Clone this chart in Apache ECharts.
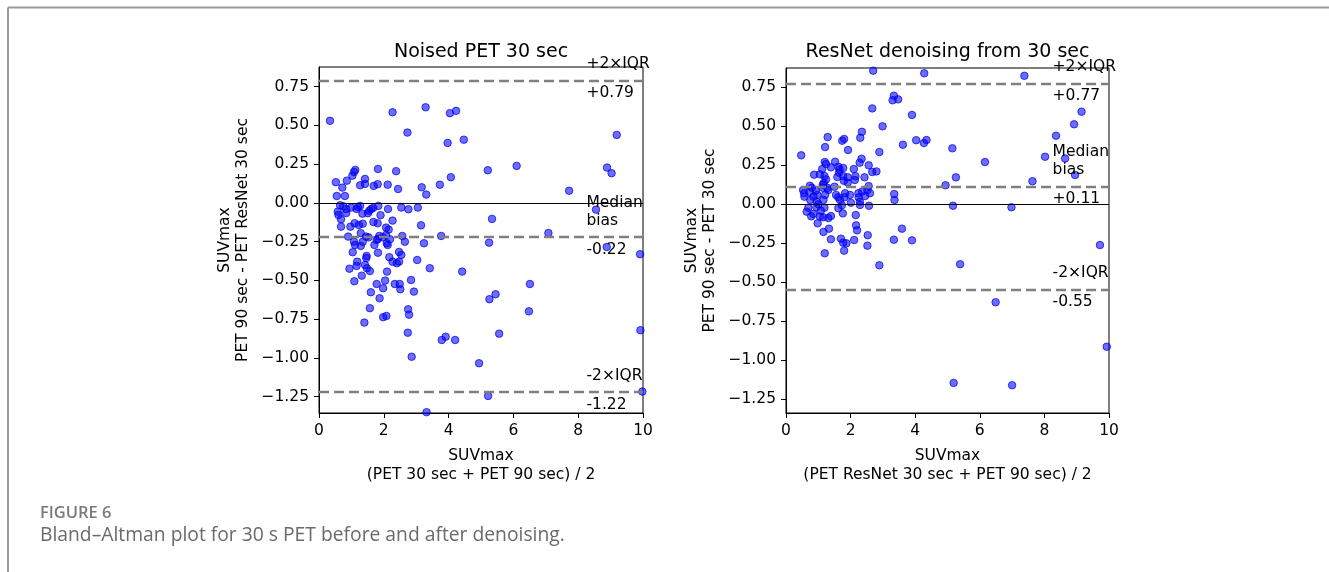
<!DOCTYPE html>
<html>
<head>
<meta charset="utf-8">
<script src="https://cdn.jsdelivr.net/npm/echarts@6/dist/echarts.min.js"></script>
<style>
  html, body { margin: 0; padding: 0; background: #fff; }
  #chart { width: 1329px; height: 572px; }
</style>
</head>
<body>
<div id="chart"></div>
<script>
// Noised PET 30 sec: [mean SUVmax, difference]
var noisedPoints = [
  [0.34,0.53],[2.27,0.585],[3.29,0.617],[4.04,0.579],[4.23,0.594],[2.73,0.454],[3.97,0.387],[4.47,0.408],[9.19,0.439],
  [0.52,0.134],[0.72,0.099],[0.86,0.144],[0.55,0.045],[0.80,0.045],[1.03,0.176],[1.08,0.200],[1.12,0.213],[1.27,0.114],
  [1.42,0.155],[1.42,0.123],[1.69,0.110],[1.81,0.121],[1.82,0.219],[2.12,0.118],[2.38,0.205],[2.44,0.090],[3.17,0.101],
  [3.31,0.054],[3.73,0.118],[4.07,0.166],[5.21,0.211],[6.10,0.239],[8.89,0.228],[9.03,0.192],[7.72,0.079],
  [8.55,-0.043],[5.34,-0.103],[7.08,-0.194],[5.25,-0.256],[8.88,-0.284],[9.91,-0.331],[6.51,-0.523],[5.45,-0.589],
  [5.26,-0.621],[6.48,-0.699],[5.56,-0.843],[9.92,-0.821],[4.94,-1.034],[5.22,-1.245],[9.98,-1.217],[3.32,-1.35],
  [0.65,-0.015],[0.75,-0.021],[0.58,-0.056],[0.60,-0.077],[0.68,-0.105],[0.84,-0.065],[0.84,-0.039],[0.99,-0.030],
  [0.68,-0.153],[0.97,-0.153],[1.10,-0.131],[1.27,-0.019],[1.20,-0.026],[1.16,-0.039],[1.34,-0.069],[1.51,-0.066],
  [1.61,-0.039],[1.67,-0.032],[1.55,-0.050],[1.83,-0.019],[1.90,-0.079],[2.13,-0.039],[2.27,-0.114],[2.54,-0.030],
  [2.76,-0.041],[3.05,-0.030],[3.15,-0.144],[1.68,-0.123],[1.81,-0.131],[2.07,-0.159],[2.15,-0.172],[1.23,-0.142],
  [1.35,-0.134],[1.29,-0.195],[0.90,-0.217],[1.08,-0.250],[1.45,-0.217],[1.78,-0.239],[2.09,-0.260],[2.65,-0.250],
  [3.24,-0.260],[3.77,-0.213],[2.57,-0.213],[1.86,-0.213],[1.11,-0.271],[1.29,-0.277],[1.71,-0.271],[1.35,-0.250],
  [1.97,-0.221],[2.12,-0.271],[2.19,-0.234],[1.53,-0.222],[1.82,-0.232],[2.07,-0.206],
  [1.04,-0.318],[1.18,-0.379],[0.94,-0.424],[1.16,-0.406],[1.47,-0.342],[1.46,-0.355],[1.42,-0.400],[1.48,-0.421],
  [1.57,-0.439],[1.82,-0.321],[2.17,-0.350],[2.27,-0.379],[2.40,-0.389],[2.47,-0.379],[2.47,-0.316],[2.54,-0.335],
  [2.10,-0.443],[3.03,-0.368],[3.42,-0.421],[4.42,-0.443],
  [1.09,-0.505],[1.32,-0.469],[1.78,-0.523],[1.60,-0.576],[1.87,-0.615],[1.98,-0.550],[2.04,-0.501],[2.34,-0.523],
  [2.49,-0.523],[2.51,-0.557],[2.84,-0.497],[2.93,-0.572],[1.57,-0.679],[1.98,-0.737],[2.08,-0.729],[1.40,-0.772],
  [2.75,-0.686],[2.78,-0.721],[2.74,-0.837],[2.86,-0.992],[3.79,-0.884],[3.91,-0.863],[4.20,-0.884]
];

// ResNet denoising from 30 sec: [mean SUVmax, difference]
var resnetPoints = [
  [2.70,0.855],[4.28,0.838],[3.34,0.694],[3.30,0.665],[3.47,0.671],[2.67,0.613],[3.90,0.571],[2.99,0.498],[2.35,0.463],
  [2.30,0.425],[1.29,0.429],[1.74,0.406],[1.80,0.417],[4.03,0.409],[4.27,0.391],[4.35,0.410],[3.62,0.380],[5.15,0.357],
  [1.21,0.365],[1.92,0.346],[2.89,0.333],[0.47,0.312],[2.34,0.290],[2.28,0.265],[1.52,0.271],[1.20,0.269],[1.24,0.256],
  [1.39,0.235],[1.12,0.224],[1.66,0.222],[1.77,0.231],[2.10,0.224],[2.56,0.248],[2.67,0.205],[2.80,0.209],[1.64,0.201],
  [1.77,0.179],[0.87,0.188],[1.19,0.179],[1.24,0.158],[1.59,0.173],[1.91,0.171],[2.15,0.178],[2.13,0.154],[2.43,0.171],
  [1.79,0.149],[1.91,0.137],[1.17,0.135],[1.14,0.124],[1.28,0.104],[1.50,0.111],[5.26,0.171],[4.94,0.120],[2.56,0.115],
  [0.74,0.117],[0.80,0.104],[0.53,0.090],[0.56,0.069],[0.57,0.047],[0.74,0.077],[0.92,0.085],[0.85,0.047],[0.97,0.058],
  [1.21,0.058],[1.55,0.058],[1.62,0.043],[1.83,0.069],[1.81,0.043],[2.24,0.069],[2.45,0.051],[2.52,0.090],[2.36,0.080],
  [2.25,0.043],[3.35,0.064],[3.36,0.026],[0.75,0.026],[0.95,0.015],[1.16,0.026],[1.67,0.026],[2.01,0.008],[2.29,0.015],
  [1.13,0.105],[1.31,0.090],[1.98,0.058],[2.60,0.069],[1.05,0.190],[1.62,0.239],
  [0.69,-0.024],[1.00,-0.002],[1.19,-0.024],[1.73,-0.008],[2.29,-0.006],[2.57,-0.011],[5.17,-0.011],[1.08,-0.043],
  [0.85,-0.064],[0.78,-0.079],[1.05,-0.080],[1.15,-0.085],[1.31,-0.090],[1.39,-0.077],[1.76,-0.060],[2.16,-0.071],
  [0.98,-0.124],[2.17,-0.137],[2.20,-0.169],[1.33,-0.158],[1.16,-0.179],[3.59,-0.158],[1.39,-0.226],[1.70,-0.222],
  [1.77,-0.248],[1.87,-0.252],[2.11,-0.231],[2.53,-0.200],[2.52,-0.267],[3.34,-0.229],[3.90,-0.233],[1.80,-0.299],
  [1.20,-0.316],[2.89,-0.393],[5.39,-0.386],[1.62,-0.027],[0.64,-0.049],[0.94,-0.020],
  [7.38,0.822],[9.15,0.592],[8.92,0.511],[8.36,0.438],[6.16,0.269],[8.02,0.303],[8.64,0.292],[8.95,0.186],[7.63,0.146],
  [6.98,-0.021],[9.72,-0.263],[6.49,-0.630],[9.93,-0.915],[5.19,-1.147],[7.00,-1.162]
];

// upper limit, median bias, lower limit
var noisedLimits = [0.79, -0.22, -1.22];
var resnetLimits = [0.77, 0.11, -0.55];

var yTicks = [-1.25, -1.00, -0.75, -0.50, -0.25, 0.00, 0.25, 0.50, 0.75];
var titles = ['Noised PET 30 sec', 'ResNet denoising from 30 sec'];
var yNames = ['SUVmax\nPET 90 sec - PET ResNet 30 sec', 'SUVmax\nPET 90 sec - PET 30 sec'];
var xNames = ['SUVmax\n(PET 30 sec + PET 90 sec) / 2', 'SUVmax\n(PET ResNet 30 sec + PET 90 sec) / 2'];
var yRanges = [[-1.355, 0.877], [-1.34, 0.872]];
var textX = 8.27;

var font = 'DejaVu Sans';
var fs = 15.5;

function fmtY(v) {
    var s = Number(v).toFixed(2);
    return s.replace('-', '\u2212');
}
function signed(v) {
    return (v >= 0 ? '+' : '') + v.toFixed(2);
}

function lineMarks(lim) {
    var dashed = { type: [10, 5], width: 2.3, color: '#7f7f7f' };
    return {
        silent: true,
        symbol: ['none', 'none'],
        label: { show: false },
        animation: false,
        data: [
            { yAxis: 0, lineStyle: { type: 'solid', width: 1, color: '#000' } },
            { yAxis: lim[0], lineStyle: dashed },
            { yAxis: lim[1], lineStyle: dashed },
            { yAxis: lim[2], lineStyle: dashed }
        ]
    };
}

function textMarks(lim) {
    var above = { show: true, position: [0, -7], align: 'left', verticalAlign: 'bottom',
                  fontFamily: font, fontSize: fs, color: '#000', lineHeight: 18 };
    var below = { show: true, position: [0, 4], align: 'left', verticalAlign: 'top',
                  fontFamily: font, fontSize: fs, color: '#000', lineHeight: 18 };
    function lab(base, txt) { return Object.assign({}, base, { formatter: txt }); }
    return {
        silent: true,
        symbol: 'circle',
        symbolSize: 1,
        itemStyle: { color: 'rgba(0,0,0,0)' },
        animation: false,
        data: [
            { coord: [textX, lim[0]], label: lab(above, '+2\u00d7IQR') },
            { coord: [textX, lim[0]], label: lab(below, signed(lim[0])) },
            { coord: [textX, lim[1]], label: lab(above, 'Median\nbias') },
            { coord: [textX, lim[1]], label: lab(below, signed(lim[1])) },
            { coord: [textX, lim[2]], label: lab(above, '-2\u00d7IQR') },
            { coord: [textX, lim[2]], label: lab(below, signed(lim[2])) }
        ]
    };
}

var myChart = echarts.init(document.getElementById('chart'));

var grids = [
    { left: 319, top: 67, width: 324, height: 346 },
    { left: 786, top: 68, width: 323, height: 345 }
];

var xAxes = [], yAxes = [], series = [], titleList = [];
var allPoints = [noisedPoints, resnetPoints];
var allLimits = [noisedLimits, resnetLimits];

for (var i = 0; i < 2; i++) {
    grids[i].show = true;
    grids[i].borderColor = '#000';
    grids[i].borderWidth = 1;
    grids[i].containLabel = false;

    xAxes.push({
        gridIndex: i, type: 'value', min: 0, max: 10, interval: 2,
        name: xNames[i], nameLocation: 'middle', nameGap: 34,
        nameTextStyle: { fontFamily: font, fontSize: fs, color: '#000', lineHeight: 18.6 },
        axisLine: { show: true, onZero: false, lineStyle: { color: '#000', width: 1 } },
        axisTick: { show: true, length: 5, lineStyle: { color: '#000' } },
        axisLabel: { fontFamily: font, fontSize: fs, color: '#000', margin: 10 },
        splitLine: { show: false }
    });
    yAxes.push({
        gridIndex: i, type: 'value', min: yRanges[i][0], max: yRanges[i][1],
        name: yNames[i], nameLocation: 'middle', nameGap: 67, nameRotate: 90,
        nameTextStyle: { fontFamily: font, fontSize: fs, color: '#000', lineHeight: 18 },
        axisLine: { show: true, onZero: false, lineStyle: { color: '#000', width: 1 } },
        axisTick: { show: true, length: 5, customValues: yTicks, lineStyle: { color: '#000' } },
        axisLabel: { fontFamily: font, fontSize: fs, color: '#000', margin: 10,
                     customValues: yTicks, formatter: fmtY },
        splitLine: { show: false }
    });
    series.push({
        type: 'scatter', xAxisIndex: i, yAxisIndex: i,
        data: allPoints[i],
        symbolSize: 7.5,
        itemStyle: { color: 'rgba(0,0,255,0.72)', borderColor: 'rgba(0,0,235,0.9)', borderWidth: 1 },
        markLine: lineMarks(allLimits[i]),
        markPoint: textMarks(allLimits[i]),
        animation: false
    });
    titleList.push({
        text: titles[i],
        left: grids[i].left + grids[i].width / 2,
        top: 43,
        textAlign: 'center',
        padding: 0,
        textStyle: { fontFamily: font, fontSize: 19, fontWeight: 'normal', color: '#000' }
    });
}

var option = {
    backgroundColor: '#fff',
    animation: false,
    title: titleList,
    grid: grids,
    xAxis: xAxes,
    yAxis: yAxes,
    series: series,
    graphic: [
        { type: 'line', shape: { x1: 8, y1: 7.5, x2: 1329, y2: 7.5 }, style: { stroke: '#9a9a9a', lineWidth: 2 } },
        { type: 'line', shape: { x1: 8, y1: 7.5, x2: 8, y2: 572 }, style: { stroke: '#9a9a9a', lineWidth: 2 } },
        { type: 'text', left: 40, top: 505,
          style: { text: 'FIGURE 6', font: '600 16.5px "Open Sans"', fill: '#7a7a7a' } },
        { type: 'text', left: 40, top: 526,
          style: { text: 'Bland\u2013Altman plot for 30 s PET before and after denoising.',
                   font: '19.3px "Open Sans"', fill: '#6a6a6a' } }
    ]
};

myChart.setOption(option);
</script>
</body>
</html>
